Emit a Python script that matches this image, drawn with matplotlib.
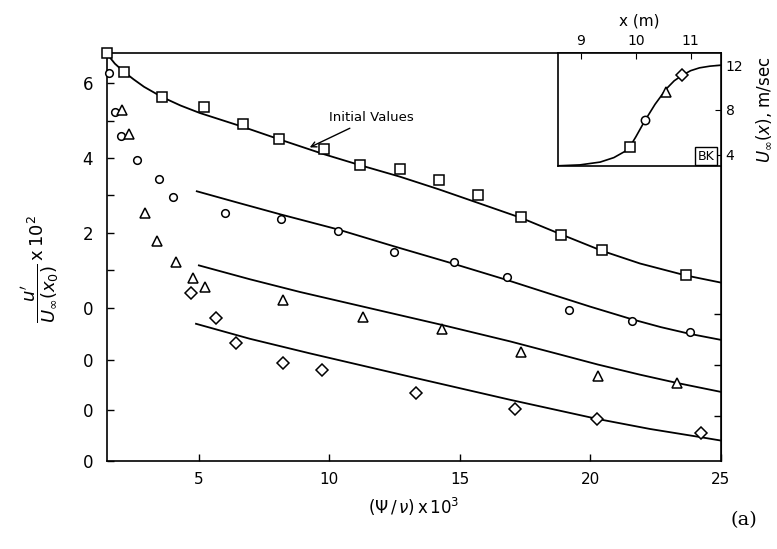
import matplotlib
matplotlib.use("Agg")
import matplotlib.pyplot as plt

plt.rcParams['font.family'] = ['DejaVu Sans']
plt.rcParams['mathtext.fontset'] = 'dejavusans'

# datos (eje y ya desplazado por curva)
sq_x = [1.48, 2.13, 3.58, 5.19, 6.69, 8.07, 9.79, 11.17, 12.70, 14.20, 15.69, 17.34, 18.87, 20.44, 23.66]
sq_y = [6.80, 6.30, 5.63, 5.36, 4.90, 4.50, 4.23, 3.80, 3.70, 3.40, 3.00, 2.41, 1.93, 1.53, 0.86]

ci_x = [1.55, 1.78, 2.01, 2.62, 3.47, 4.00, 6.00, 8.14, 10.33, 12.47, 14.77, 16.80, 19.18, 21.59, 23.81]
ci_y = [6.27, 5.22, 4.58, 3.94, 3.43, 2.97, 2.54, 2.38, 2.06, 1.50, 1.21, 0.83, -0.05, -0.35, -0.64]

tr_x = [2.05, 2.32, 2.93, 3.39, 4.12, 4.77, 5.23, 8.22, 11.28, 14.31, 17.34, 20.29, 23.31]
tr_y = [5.28, 4.63, 2.54, 1.77, 1.21, 0.80, 0.56, 0.21, -0.24, -0.56, -1.18, -1.82, -2.01]

di_x = [4.69, 5.65, 6.42, 8.22, 9.71, 13.31, 17.11, 20.25, 24.23]
di_y = [0.40, -0.27, -0.94, -1.47, -1.66, -2.28, -2.71, -2.97, -3.35]

# curvas calculadas
sq_cx = [1.48, 1.62, 1.78, 2.13, 2.5, 2.9, 3.58, 4.3, 5.04, 6.69, 8.07, 9.79, 11.21, 12.70,
         14.20, 15.69, 17.34, 18.87, 20.44, 21.90, 23.66, 25.0]
sq_cy = [6.80, 6.66, 6.52, 6.30, 6.10, 5.90, 5.63, 5.40, 5.20, 4.83, 4.50, 4.10, 3.80, 3.50,
         3.16, 2.80, 2.40, 1.96, 1.52, 1.18, 0.86, 0.67]

ci_cx = [4.92, 6.57, 8.14, 10.33, 12.47, 14.77, 16.80, 18.45, 19.98, 21.59, 22.7, 23.81, 25.0]
ci_cy = [3.11, 2.79, 2.49, 2.09, 1.64, 1.17, 0.74, 0.37, 0.03, -0.31, -0.52, -0.70, -0.86]

tr_cx = [5.0, 6.95, 8.87, 11.28, 14.31, 16.92, 18.83, 20.29, 21.90, 23.31, 25.0]
tr_cy = [1.13, 0.76, 0.42, 0.03, -0.46, -0.90, -1.25, -1.52, -1.79, -2.01, -2.25]

di_cx = [4.89, 6.95, 9.25, 13.31, 16.92, 20.25, 22.28, 24.23, 25.0]
di_cy = [-0.43, -0.83, -1.22, -1.88, -2.46, -2.97, -3.24, -3.46, -3.55]

y_ticks = [6, 5, 4, 3, 2, 1, 0, -1.4, -2.72, -4.1]
y_labels = ['6', '', '4', '', '2', '', '0', '0', '0', '0']
y_ticks_der = [-0.16, -1.53, -2.89]

# inserto: U_inf(x)
ins_cx = [8.58, 8.98, 9.35, 9.6, 9.8, 9.89, 10.0, 10.16, 10.35, 10.56, 10.7, 10.85, 11.0, 11.16, 11.35, 11.58]
ins_cy = [3.02, 3.10, 3.35, 3.75, 4.3, 4.71, 5.6, 7.0, 8.5, 9.9, 10.6, 11.1, 11.5, 11.75, 11.9, 12.0]
ins_x = [9.89, 10.16, 10.55, 10.85]
ins_y = [4.71, 7.11, 9.6, 11.1]

fig = plt.figure(figsize=(7.77, 5.49), dpi=100)
ax = fig.add_axes([0.1377, 0.160, 0.7902, 0.7432])

lw = 1.3
ax.plot(sq_cx, sq_cy, color='black', lw=lw)
ax.plot(ci_cx, ci_cy, color='black', lw=lw)
ax.plot(tr_cx, tr_cy, color='black', lw=lw)
ax.plot(di_cx, di_cy, color='black', lw=lw)

mk = dict(linestyle='none', mfc='white', mec='black', mew=1.1, clip_on=False, zorder=3)
ax.plot(sq_x, sq_y, marker='s', ms=7, **mk)
ax.plot(ci_x, ci_y, marker='o', ms=5.5, **mk)
ax.plot(tr_x, tr_y, marker='^', ms=7, **mk)
ax.plot(di_x, di_y, marker='D', ms=6, **mk)

ax.set_xlim(1.48, 25)
ax.set_ylim(-4.1, 6.8)
ax.set_xticks([5, 10, 15, 20, 25])
ax.set_xticklabels(['5', '10', '15', '20', '25'], fontsize=11)
ax.set_yticks(y_ticks)
ax.set_yticklabels(y_labels, fontsize=12)
ax.tick_params(direction='in', length=5, width=1, pad=8)
ax.tick_params(axis='y', pad=10)
for s in ax.spines.values():
    s.set_linewidth(1.2)

der = ax.secondary_yaxis('right')
der.set_yticks(y_ticks_der)
der.set_yticklabels(['', '', ''])
der.tick_params(direction='in', length=5, width=1)

ax.set_xlabel(r"$(\Psi\,/\,\nu)\,\mathrm{x}\,10^3$", fontsize=12, labelpad=6)
ax.set_ylabel(r"$\dfrac{u^{\prime}}{U_{\infty}(x_0)}\,\mathrm{x}\,10^2$", fontsize=13)
ax.yaxis.set_label_coords(-0.075, 0.47)

ax.annotate('Initial Values', xy=(9.15, 4.25), xytext=(10.0, 4.98), fontsize=9.5,
            arrowprops=dict(arrowstyle='->', color='black', lw=1))

fig.text(0.958, 0.043, '(a)', fontsize=14, family='DejaVu Serif', ha='center')

# inserto
ax_in = fig.add_axes([0.718, 0.6976, 0.2098, 0.2058])
ax_in.plot(ins_cx, ins_cy, color='black', lw=1.2)
ax_in.plot(ins_x[0], ins_y[0], marker='s', ms=7, **mk)
ax_in.plot(ins_x[1], ins_y[1], marker='o', ms=6, **mk)
ax_in.plot(ins_x[2], ins_y[2], marker='^', ms=7, **mk)
ax_in.plot(ins_x[3], ins_y[3], marker='D', ms=6, **mk)
ax_in.set_xlim(8.58, 11.55)
ax_in.set_ylim(3.0, 13.07)
ax_in.set_xticks([9, 10, 11])
ax_in.set_yticks([4, 8, 12])
ax_in.xaxis.tick_top()
ax_in.yaxis.tick_right()
ax_in.tick_params(direction='in', length=4, labelsize=10)
ax_in.xaxis.set_label_position('top')
ax_in.yaxis.set_label_position('right')
ax_in.set_xlabel('x (m)', fontsize=11, labelpad=6)
ax_in.set_ylabel(r"$U_{\infty}(x)$, m/sec", fontsize=12, rotation=90, labelpad=8)
ax_in.text(0.96, 0.03, 'BK', transform=ax_in.transAxes, ha='right', va='bottom', fontsize=9,
           bbox=dict(boxstyle='square,pad=0.2', fc='white', ec='black', lw=1))
for s in ax_in.spines.values():
    s.set_linewidth(1.2)

fig.savefig('out.png', dpi=100)
